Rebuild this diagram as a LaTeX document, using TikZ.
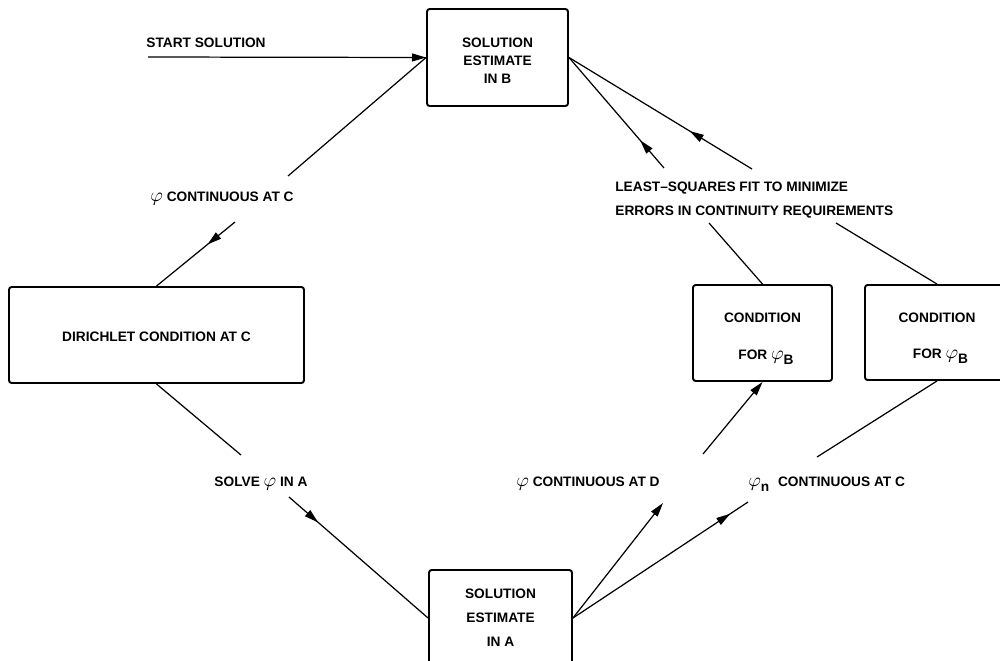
\documentclass[tikz,border=0pt]{standalone}
\usepackage{fontspec}
\setmainfont{Liberation Sans}
\usetikzlibrary{arrows.meta,decorations.markings}
\newcommand\myphi{{\fontsize{10.5}{12}\selectfont$\varphi$}}
\tikzset{
  box/.style={draw, line width=1.1pt, rounded corners=1.5pt, align=center, inner sep=0pt, font=\fontsize{7.8}{9.6}\selectfont\bfseries},
  conn/.style={line width=0.7pt},
  tipend/.style={-{Triangle[length=8pt,width=4.5pt]}},
  midarrow/.style={postaction={decorate}, decoration={markings, mark=at position #1 with {\arrow{Triangle[length=8pt,width=4.5pt]}}}},
  lbl/.style={inner sep=0pt, font=\fontsize{7.8}{9.6}\selectfont\bfseries}
}
\begin{document}
\begin{tikzpicture}[x=0.02cm,y=-0.02cm]
\useasboundingbox (0,0) rectangle (1000,660);
% boxes
\node[box, minimum width=2.82cm, minimum height=1.94cm] (B) at (497.5,57.5) {\rule{0pt}{9.3pt}SOLUTION\\[0.6pt]ESTIMATE\\[0.6pt]IN B};
\node[box, minimum width=5.9cm, minimum height=1.92cm] (D) at (156.5,335) {\rule{0pt}{7pt}DIRICHLET CONDITION AT C};
\node[box, minimum width=2.86cm, minimum height=1.92cm] (A) at (500.5,618) {SOLUTION\\[4pt]ESTIMATE\\[4pt]IN A};
\node[box, minimum width=2.78cm, minimum height=1.92cm] (C1) at (762.5,333) {\rule{0pt}{12pt}CONDITION\\[11pt]\hspace*{4pt}FOR \myphi\raisebox{-3pt}{B}};
\node[box, minimum width=2.88cm, minimum height=1.90cm] (C2) at (937,332.5) {\rule{0pt}{12pt}CONDITION\\[11pt]\hspace*{4pt}FOR \myphi\raisebox{-3pt}{B}};
% labels
\node[lbl] (lstart) at (206,43) {START SOLUTION};
\node[lbl] (lc) at (222,199) {\myphi\ CONTINUOUS AT C};
\node[lbl] (ls) at (261,484) {SOLVE \myphi\ IN A};
\node[lbl] (ld) at (588,484) {\myphi\ CONTINUOUS AT D};
\node[lbl, anchor=west] (ln) at (748,484) {\myphi\raisebox{-3pt}{n}\hspace{5pt}CONTINUOUS AT C};
\node[lbl, anchor=west, align=left] (lsq) at (615,200) {LEAST--SQUARES FIT TO MINIMIZE\\[4pt]ERRORS IN CONTINUITY REQUIREMENTS};
% free ends
\coordinate (s0) at (148,57);
\coordinate (c1a) at (288,176);
\coordinate (c1b) at (235,222);
\coordinate (s1) at (241,455);
\coordinate (s2) at (289,497);
\coordinate (d1) at (663,503);
\coordinate (d2) at (703,454);
\coordinate (n1) at (748,502);
\coordinate (n2) at (817,457);
\coordinate (q1) at (664,168);
\coordinate (q2) at (752,169);
\coordinate (q3) at (709,223);
\coordinate (q4) at (836,223);
% connectors
\draw[conn, tipend] (s0) -- (B.west);
\draw[conn] (c1a) -- (B.west);
\draw[conn, midarrow=0.35] (c1b) -- (D.north);
\draw[conn] (D.south) -- (s1);
\draw[conn, midarrow=0.21] (s2) -- (A.west);
\draw[conn, tipend] (A.east) -- (d1);
\draw[conn, tipend] (d2) -- (C1.south);
\draw[conn, midarrow=0.9] (A.east) -- (n1);
\draw[conn] (n2) -- (C2.south);
\draw[conn, midarrow=0.25] (q1) -- (B.east);
\draw[conn, midarrow=0.34] (q2) -- (B.east);
\draw[conn] (C1.north) -- (q3);
\draw[conn] (C2.north) -- (q4);
\end{tikzpicture}
\end{document}
